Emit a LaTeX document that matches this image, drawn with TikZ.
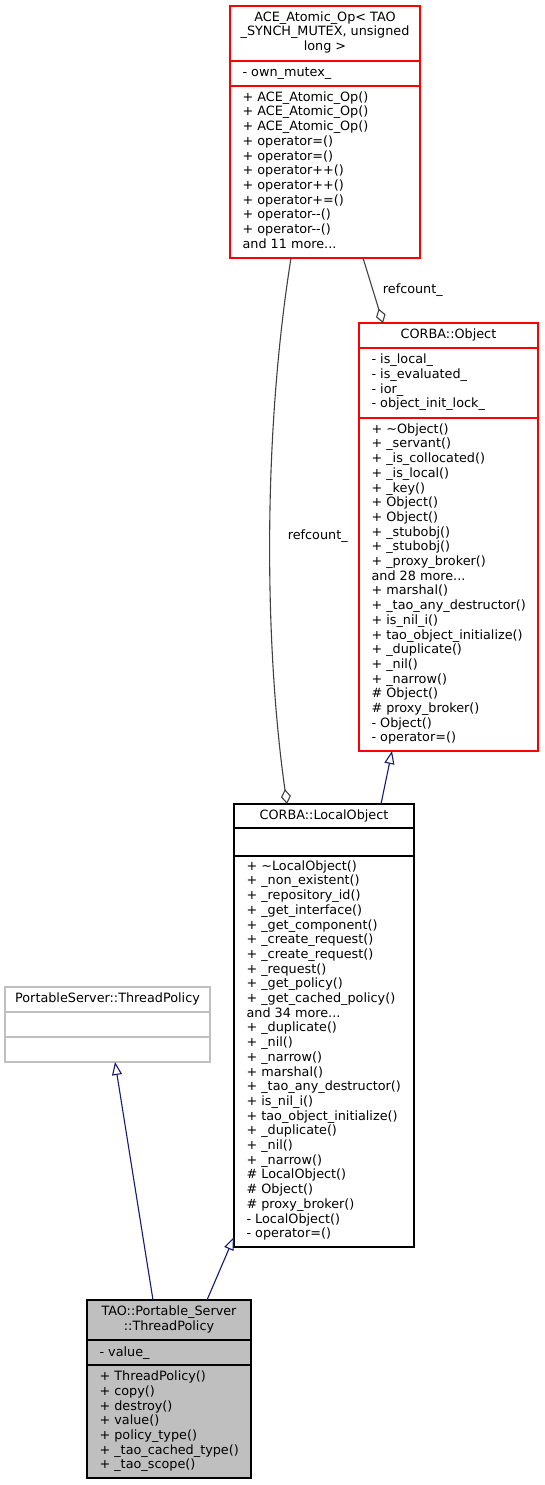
\documentclass[tikz,border=0pt]{standalone}
\usepackage{fontspec}
\newfontfamily\umlfont{DejaVu Sans}
\usetikzlibrary{arrows.meta}
\definecolor{edgegrey}{HTML}{404040}
\definecolor{inheritblue}{HTML}{191970}
\definecolor{classgrey}{HTML}{BFBFBF}
\definecolor{classred}{HTML}{FF0000}
\tikzset{
  classbox/.style={draw,anchor=north west,inner sep=0pt,outer sep=0pt},
  classname/.style={anchor=north,align=center,inner sep=0pt,execute at begin node=\strut},
  members/.style={anchor=north west,align=left,inner sep=0pt,execute at begin node=\strut},
  aggr/.style={draw=edgegrey,-{Diamond[open,length=15pt,width=10pt]}},
  inherit/.style={draw=inheritblue,-{Triangle[open,length=13pt,width=10pt]}}
}
\begin{document}
\begin{tikzpicture}[x=1pt,y=-1pt,line width=1.1pt,font=\umlfont\fontsize{12.8}{14.7}\selectfont]
		\useasboundingbox (0,0) rectangle (544,1485);
		% ACE_Atomic_Op
		\node[classbox,draw=classred,minimum width=190pt,minimum height=252pt] (atomic) at (230,6) {};
		\draw[classred] ([yshift=-55pt]atomic.north west) -- ([yshift=-55pt]atomic.north east);
		\draw[classred] ([yshift=-80pt]atomic.north west) -- ([yshift=-80pt]atomic.north east);
		\node[classname] (atomicname) at ([yshift=-5pt]atomic.north) {ACE\_Atomic\_Op< TAO\\\_SYNCH\_MUTEX, unsigned\\long >};
		\node[members] (atomicattr) at ([xshift=12pt,yshift=-60pt]atomic.north west) {- own\_mutex\_};
		\node[members] (atomicops) at ([xshift=12pt,yshift=-85pt]atomic.north west) {+ ACE\_Atomic\_Op()\\+ ACE\_Atomic\_Op()\\+ ACE\_Atomic\_Op()\\+ operator=()\\+ operator=()\\+ operator++()\\+ operator++()\\+ operator+=()\\+ operator-{}-()\\+ operator-{}-()\\and 11 more...};
		% CORBA::Object
		\node[classbox,draw=classred,minimum width=179pt,minimum height=428pt] (object) at (359,323) {};
		\draw[classred] ([yshift=-25pt]object.north west) -- ([yshift=-25pt]object.north east);
		\draw[classred] ([yshift=-95pt]object.north west) -- ([yshift=-95pt]object.north east);
		\node[classname] (objectname) at ([yshift=-5pt]object.north) {CORBA::Object};
		\node[members] (objectattr) at ([xshift=12pt,yshift=-30.5pt]object.north west) {- is\_local\_\\- is\_evaluated\_\\- ior\_\\- object\_init\_lock\_};
		\node[members] (objectops) at ([xshift=12pt,yshift=-100pt]object.north west) {+ \textasciitilde Object()\\+ \_servant()\\+ \_is\_collocated()\\+ \_is\_local()\\+ \_key()\\+ Object()\\+ Object()\\+ \_stubobj()\\+ \_stubobj()\\+ \_proxy\_broker()\\and 28 more...\\+ marshal()\\+ \_tao\_any\_destructor()\\+ is\_nil\_i()\\+ tao\_object\_initialize()\\+ \_duplicate()\\+ \_nil()\\+ \_narrow()\\\# Object()\\\# proxy\_broker()\\- Object()\\- operator=()};
		% CORBA::LocalObject
		\node[classbox,minimum width=180pt,minimum height=443pt] (localobj) at (234,804) {};
		\draw ([yshift=-24pt]localobj.north west) -- ([yshift=-24pt]localobj.north east);
		\draw ([yshift=-52pt]localobj.north west) -- ([yshift=-52pt]localobj.north east);
		\node[classname] (localobjname) at ([yshift=-5pt]localobj.north) {CORBA::LocalObject};
		\node[members] (localobjops) at ([xshift=12pt,yshift=-56pt]localobj.north west) {+ \textasciitilde LocalObject()\\+ \_non\_existent()\\+ \_repository\_id()\\+ \_get\_interface()\\+ \_get\_component()\\+ \_create\_request()\\+ \_create\_request()\\+ \_request()\\+ \_get\_policy()\\+ \_get\_cached\_policy()\\and 34 more...\\+ \_duplicate()\\+ \_nil()\\+ \_narrow()\\+ marshal()\\+ \_tao\_any\_destructor()\\+ is\_nil\_i()\\+ tao\_object\_initialize()\\+ \_duplicate()\\+ \_nil()\\+ \_narrow()\\\# LocalObject()\\\# Object()\\\# proxy\_broker()\\- LocalObject()\\- operator=()};
		% PortableServer::ThreadPolicy
		\node[classbox,draw=classgrey,minimum width=205pt,minimum height=75pt] (psthread) at (5,987) {};
		\draw[classgrey] ([yshift=-25pt]psthread.north west) -- ([yshift=-25pt]psthread.north east);
		\draw[classgrey] ([yshift=-50pt]psthread.north west) -- ([yshift=-50pt]psthread.north east);
		\node[classname] (psthreadname) at ([yshift=-5pt]psthread.north) {PortableServer::ThreadPolicy};
		% TAO::Portable_Server::ThreadPolicy
		\node[classbox,fill=classgrey,minimum width=164pt,minimum height=178pt] (taothread) at (87,1300) {};
		\draw ([yshift=-40pt]taothread.north west) -- ([yshift=-40pt]taothread.north east);
		\draw ([yshift=-65pt]taothread.north west) -- ([yshift=-65pt]taothread.north east);
		\node[classname] (taothreadname) at ([yshift=-5.5pt]taothread.north) {TAO::Portable\_Server\\::ThreadPolicy};
		\node[members] (taothreadattr) at ([xshift=12pt,yshift=-45.5pt]taothread.north west) {- value\_};
		\node[members] (taothreadops) at ([xshift=12pt,yshift=-70.5pt]taothread.north west) {+ ThreadPolicy()\\+ copy()\\+ destroy()\\+ value()\\+ policy\_type()\\+ \_tao\_cached\_type()\\+ \_tao\_scope()};
		% relations
		\draw[aggr] ([xshift=133pt]atomic.south west) -- node[midway,right=6pt] (objref) {refcount\_} ([xshift=24pt]object.north west);
		\draw[aggr] ([xshift=61pt]atomic.south west) .. controls +(-29,182) and +(-22,-154) .. node[pos=0.49,right=14pt] (localref) {refcount\_} ([xshift=53pt]localobj.north west);
		\draw[inherit] ([xshift=147pt]localobj.north west) -- ([xshift=33pt]object.south west);
		\draw[inherit] ([xshift=66pt]taothread.north west) -- ([xshift=110pt]psthread.south west);
		\draw[inherit] ([xshift=120pt]taothread.north west) -- ([yshift=10pt]localobj.south west);
\end{tikzpicture}
\end{document}
